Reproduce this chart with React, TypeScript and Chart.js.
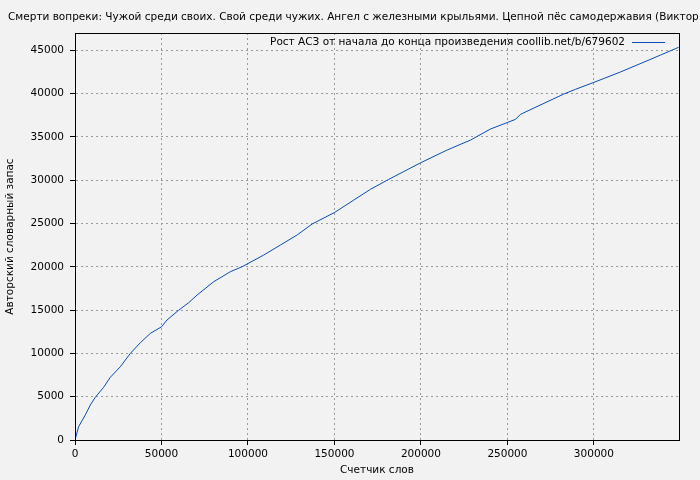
import React, { useEffect, useRef } from "react";
import { Chart, registerables } from "chart.js";

Chart.register(...registerables);

const TITLE =
  "Смерти вопреки: Чужой среди своих. Свой среди чужих. Ангел с железными крыльями. Цепной пёс самодержавия (Виктор Коллингвуд)";
const LEGEND_LABEL = "Рост АСЗ от начала до конца произведения coollib.net/b/679602";
const X_TITLE = "Счетчик слов";
const Y_TITLE = "Авторский словарный запас";

const wordCounts = [
  0, 2100, 5960, 8850, 11740, 16550, 20400, 26200, 32000, 37800, 43600, 50100, 53200,
  59900, 65700, 70600, 80200, 89800, 96600, 109100, 118800, 128400, 137100, 150200,
  161200, 170800, 181400, 199900, 215200, 228700, 240200, 250200, 254700, 257600,
  271100, 282600, 289400, 300000, 315400, 331800, 338600, 349000,
];
const vocabulary = [
  0, 1540, 2890, 4040, 4930, 6090, 7240, 8460, 10000, 11240, 12320, 13080, 13860,
  14980, 15850, 16740, 18280, 19430, 20010, 21360, 22520, 23670, 24940, 26290,
  27710, 28950, 30100, 32020, 33490, 34640, 35910, 36680, 37030, 37610,
  38880, 39950, 40500, 41300, 42500, 43880, 44460, 45350,
];

const X_TICKS = [0, 50000, 100000, 150000, 200000, 250000, 300000];
const Y_TICKS = [0, 5000, 10000, 15000, 20000, 25000, 30000, 35000, 40000, 45000];
const X_MAX = 349200;
const Y_MAX = 47000;

const FONT = "'DejaVu Sans', sans-serif";
const FS = 10.5;
const LINE_COLOR = "#0a4cb3";

export default function App() {
  const ref = useRef<HTMLCanvasElement>(null);

  useEffect(() => {
    document.body.style.margin = "0";
    const canvas = ref.current!;
    const decor = {
      id: "decor",
      afterDraw(chart: any) {
        const ctx = chart.ctx;
        const a = chart.chartArea;
        ctx.save();
        ctx.setLineDash([]);
        ctx.strokeStyle = "#000";
        ctx.lineWidth = 1;
        ctx.strokeRect(Math.round(a.left) + 0.5, Math.round(a.top) + 0.5, Math.round(a.right - a.left), Math.round(a.bottom - a.top));
        ctx.fillStyle = "#000";
        ctx.font = `${FS}px ${FONT}`;
        ctx.textBaseline = "middle";
        ctx.textAlign = "left";
        ctx.fillText(TITLE, 8, 17);
        ctx.textAlign = "right";
        ctx.fillText(LEGEND_LABEL, 625, 42);
        ctx.strokeStyle = LINE_COLOR;
        ctx.beginPath();
        ctx.moveTo(632, 42.5);
        ctx.lineTo(665, 42.5);
        ctx.stroke();
        ctx.fillStyle = "#000";
        ctx.textAlign = "center";
        ctx.fillText(X_TITLE, (a.left + a.right) / 2, 470);
        ctx.translate(10, (a.top + a.bottom) / 2);
        ctx.rotate(-Math.PI / 2);
        ctx.fillText(Y_TITLE, 0, 0);
        ctx.restore();
      },
    };
    const bg = {
      id: "bg",
      beforeDraw(chart: any) {
        const ctx = chart.ctx;
        ctx.save();
        ctx.fillStyle = "#f2f2f2";
        ctx.fillRect(0, 0, chart.width, chart.height);
        ctx.restore();
      },
    };
    const tickFmt = (v: any) => String(v);
    const gridOpts = {
      color: "#9a9a9a",
      tickLength: 5,
      tickColor: "#000",
      tickBorderDash: [],
      tickWidth: 1,
    } as any;
    const borderOpts = { display: true, color: "#000", dash: [2, 3] } as any;
    const chart = new Chart(canvas, {
      type: "line",
      data: {
        datasets: [
          {
            label: LEGEND_LABEL,
            data: wordCounts.map((x, i) => ({ x, y: vocabulary[i] })),
            borderColor: LINE_COLOR,
            borderWidth: 1,
            pointRadius: 0,
            tension: 0,
            fill: false,
          },
        ],
      },
      options: {
        animation: false,
        responsive: false,
        devicePixelRatio: 1,
        layout: { padding: { left: 0, right: 21, top: 33, bottom: 0 } },
        plugins: {
          legend: { display: false },
          title: { display: false },
          tooltip: { enabled: false },
        },
        scales: {
          x: {
            type: "linear",
            min: 0,
            max: X_MAX,
            afterBuildTicks(scale: any) {
              scale.ticks = X_TICKS.map((value) => ({ value }));
            },
            ticks: {
              autoSkip: false,
              maxRotation: 0,
              padding: 3,
              color: "#000",
              font: { family: FONT, size: FS },
              callback: tickFmt,
            },
            grid: gridOpts,
            border: borderOpts,
            afterFit(scale: any) {
              scale.height = 40;
            },
          },
          y: {
            type: "linear",
            min: 0,
            max: Y_MAX,
            afterBuildTicks(scale: any) {
              scale.ticks = Y_TICKS.map((value) => ({ value }));
            },
            ticks: {
              autoSkip: false,
              padding: 6,
              color: "#000",
              font: { family: FONT, size: FS },
              callback: tickFmt,
            },
            grid: gridOpts,
            border: borderOpts,
            afterFit(scale: any) {
              scale.width = 75;
            },
          },
        },
      },
      plugins: [bg, decor],
    } as any);
    return () => chart.destroy();
  }, []);

  return (
    <div style={{ position: "fixed", left: 0, top: 0, width: 700, height: 480 }}>
      <canvas ref={ref} width={700} height={480} style={{ width: 700, height: 480 }} />
    </div>
  );
}
